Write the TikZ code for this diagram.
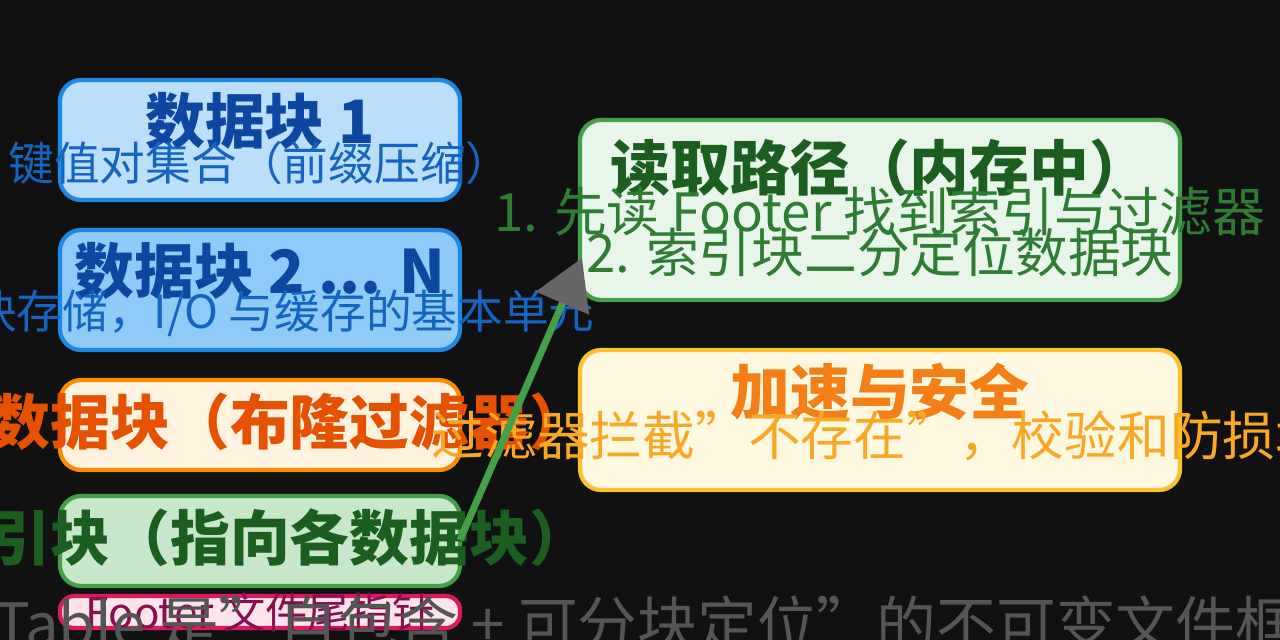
\documentclass[tikz,border=0pt]{standalone}
\usepackage{fontspec}
\setmainfont{Noto Sans CJK SC}
\usetikzlibrary{positioning,arrows.meta}
\definecolor{bg}{HTML}{111111}
\definecolor{blueA}{HTML}{BBDEFB}
\definecolor{blueB}{HTML}{90CAF9}
\definecolor{blueLn}{HTML}{1E88E5}
\definecolor{blueTx}{HTML}{0D47A1}
\definecolor{blueSb}{HTML}{1565C0}
\definecolor{orgFl}{HTML}{FFF3E0}
\definecolor{orgLn}{HTML}{FB8C00}
\definecolor{orgTx}{HTML}{E65100}
\definecolor{grnFl}{HTML}{C8E6C9}
\definecolor{grnLt}{HTML}{E8F5E9}
\definecolor{grnLn}{HTML}{43A047}
\definecolor{grnTx}{HTML}{1B5E20}
\definecolor{grnSb}{HTML}{2E7D32}
\definecolor{pnkFl}{HTML}{FCE4EC}
\definecolor{pnkLn}{HTML}{D81B60}
\definecolor{pnkTx}{HTML}{880E4F}
\definecolor{ylwFl}{HTML}{FFF8E1}
\definecolor{ylwLn}{HTML}{FBC02D}
\definecolor{ylwTx}{HTML}{F57F17}
\definecolor{ylwSb}{HTML}{F9A825}
\definecolor{tipGr}{HTML}{666666}
\definecolor{capGr}{HTML}{555555}
\tikzset{%
    blk/.style={line width=1.2pt, rounded corners=6pt},
    ttl/.style={font=\bfseries\fontsize{17}{20}\selectfont},
    sub/.style={font=\fontsize{13}{16}\selectfont},
    sbb/.style={font=\fontsize{15}{18}\selectfont},
}
\begin{document}
\begin{tikzpicture}[x=0.01cm,y=-0.01cm]
		\fill[bg] (0,0) rectangle (1280,640);
		\useasboundingbox (0,0) rectangle (1280,640);

		% file layout, left column
		\draw[blk, fill=blueA, draw=blueLn] (60,80) rectangle (460,200);
		\node[ttl, text=blueTx](d1) at (260,121) {数据块 1};
		\node[sub, text=blueSb](d1s) at (260,163) {键值对集合（前缀压缩）};

		\draw[blk, fill=blueB, draw=blueLn] (60,230) rectangle (460,350);
		\node[ttl, text=blueTx](d2) at (260,271) {数据块 2 ... N};
		\node[sub, text=blueSb](d2s) at (260,313) {分块存储，I/O 与缓存的基本单元};

		\draw[blk, fill=orgFl, draw=orgLn] (60,380) rectangle (460,470);
		\node[ttl, text=orgTx](meta) at (260,422) {元数据块（布隆过滤器）};

		\draw[blk, fill=grnFl, draw=grnLn] (60,496) rectangle (460,586);
		\node[ttl, text=grnTx](idx) at (260,538) {索引块（指向各数据块）};
		\coordinate (idxR) at (460,540);

		\draw[blk, rounded corners=4pt, fill=pnkFl, draw=pnkLn] (60,596) rectangle (460,628);
		\node[font=\fontsize{12}{14}\selectfont, text=pnkTx](foot) at (260,612) {Footer 文件尾指针};

		% right column
		\draw[blk, fill=grnLt, draw=grnLn] (580,120) rectangle (1180,300);
		\node[ttl, text=grnTx](rd) at (880,168) {读取路径（内存中）};
		\node[sbb, text=grnSb](rd1) at (880,212) {1. 先读 Footer 找到索引与过滤器};
		\node[sbb, text=grnSb](rd2) at (880,252) {2. 索引块二分定位数据块};
		\coordinate (rdL) at (582,258);

		\draw[blk, fill=ylwFl, draw=ylwLn] (580,350) rectangle (1180,490);
		\node[ttl, text=ylwTx](acc) at (880,392) {加速与安全};
		\node[sbb, text=ylwSb](acc1) at (880,436) {过滤器拦截"不存在"，校验和防损坏};

		\draw[grnLn, line width=2pt, -{Triangle[length=14pt,width=16pt,fill=tipGr,color=tipGr]}] (idxR) -- (rdL);

		\node[font=\fontsize{17}{20}\selectfont, text=capGr](cap) at (640,624) {SSTable 是"自包含 + 可分块定位"的不可变文件框架};
\end{tikzpicture}
\end{document}
